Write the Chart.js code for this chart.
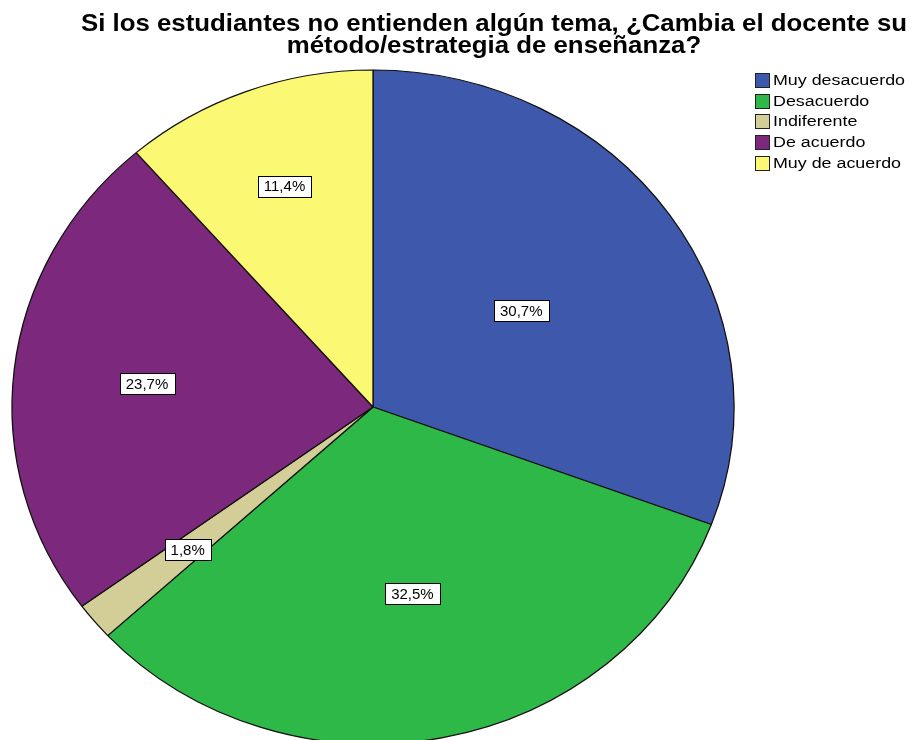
<!DOCTYPE html>
<html>
<head>
<meta charset="utf-8">
<script src="https://cdn.jsdelivr.net/npm/chart.js@4/dist/chart.umd.min.js"></script>
<style>
  html, body { margin: 0; padding: 0; background: #fff; overflow: hidden; }
  #wrap { width: 912px; height: 740px; position: relative; }
</style>
</head>
<body>
<div id="wrap"><canvas id="pieChart" width="912" height="740"></canvas></div>
<script>
// pie data
const CATEGORIES = ['Muy desacuerdo', 'Desacuerdo', 'Indiferente', 'De acuerdo', 'Muy de acuerdo'];
const PERCENTS   = [30.7, 32.5, 1.8, 23.7, 11.4];
const COLORS     = ['#3e58ac', '#2eb848', '#d3ce97', '#7c287d', '#fbf873'];
const TITLE_LINES = [
  'Si los estudiantes no entienden algún tema, ¿Cambia el docente su',
  'método/estrategia de enseñanza?'
];

// styling: the SPSS pie is a bit squashed vertically
const SQUASH = 337 / 361;
const LABEL_FRAC = [0.50, 0.565, 0.665, 0.63, 0.70];
const FONT = '"Liberation Sans", Arial, sans-serif';

const fmtPct = v => v.toFixed(1).replace('.', ',') + '%';

const spssPlugin = {
  id: 'spss',
  beforeDatasetsDraw(chart) {
    const arc = chart.getDatasetMeta(0).data[0];
    const ctx = chart.ctx;
    ctx.save();
    ctx.translate(arc.x, arc.y);
    ctx.scale(1, SQUASH);
    ctx.translate(-arc.x, -arc.y);
  },
  afterDatasetsDraw(chart) {
    const ctx = chart.ctx;
    ctx.restore();

    // value boxes
    const arcs = chart.getDatasetMeta(0).data;
    ctx.save();
    ctx.font = '15px ' + FONT;
    ctx.textAlign = 'center';
    ctx.textBaseline = 'middle';
    arcs.forEach((a, i) => {
      const mid = (a.startAngle + a.endAngle) / 2;
      const r = a.outerRadius * LABEL_FRAC[i];
      const x = a.x + Math.cos(mid) * r;
      const y = a.y + Math.sin(mid) * r * SQUASH;
      const txt = fmtPct(PERCENTS[i]);
      const w = ctx.measureText(txt).width + 12;
      const h = 21;
      ctx.fillStyle = '#fff';
      ctx.fillRect(Math.round(x - w / 2) + 0.5, Math.round(y - h / 2) + 0.5, Math.round(w), h);
      ctx.strokeStyle = '#000';
      ctx.lineWidth = 1;
      ctx.strokeRect(Math.round(x - w / 2) + 0.5, Math.round(y - h / 2) + 0.5, Math.round(w), h);
      ctx.fillStyle = '#000';
      ctx.fillText(txt, x, y + 1);
    });
    ctx.restore();
  },
  afterDraw(chart) {
    const ctx = chart.ctx;

    // title, squeezed to the SPSS width
    ctx.save();
    ctx.font = 'bold 24px ' + FONT;
    ctx.fillStyle = '#000';
    ctx.textAlign = 'center';
    ctx.textBaseline = 'alphabetic';
    const w0 = ctx.measureText(TITLE_LINES[0]).width;
    const sx = 826 / w0;
    ctx.translate(494, 0);
    ctx.scale(sx, 1);
    ctx.fillText(TITLE_LINES[0], 0, 31);
    ctx.fillText(TITLE_LINES[1], 0, 53);
    ctx.restore();

    // legend
    ctx.save();
    ctx.font = '14px ' + FONT;
    ctx.textBaseline = 'middle';
    ctx.textAlign = 'left';
    const lx = 773;
    const lsx = 132 / ctx.measureText(CATEGORIES[0]).width;
    CATEGORIES.forEach((c, i) => {
      const y = 80 + i * 20.7;
      ctx.fillStyle = COLORS[i];
      ctx.fillRect(755.5, Math.round(y - 7) + 0.5, 14, 14);
      ctx.strokeStyle = '#222';
      ctx.lineWidth = 1;
      ctx.strokeRect(755.5, Math.round(y - 7) + 0.5, 14, 14);
      ctx.fillStyle = '#000';
      ctx.save();
      ctx.translate(lx, y + 1);
      ctx.scale(lsx, 1);
      ctx.fillText(c, 0, 0);
      ctx.restore();
    });
    ctx.restore();
  }
};

new Chart(document.getElementById('pieChart'), {
  type: 'pie',
  data: {
    labels: CATEGORIES,
    datasets: [{
      data: PERCENTS,
      backgroundColor: COLORS,
      borderColor: '#111',
      borderWidth: 1.3,
      radius: 361,
      clip: false
    }]
  },
  options: {
    responsive: false,
    animation: false,
    events: [],
    layout: { padding: { left: 12, right: 178, top: 74, bottom: 0 } },
    plugins: {
      legend: { display: false },
      title: { display: false },
      tooltip: { enabled: false }
    }
  },
  plugins: [spssPlugin]
});
</script>
</body>
</html>
